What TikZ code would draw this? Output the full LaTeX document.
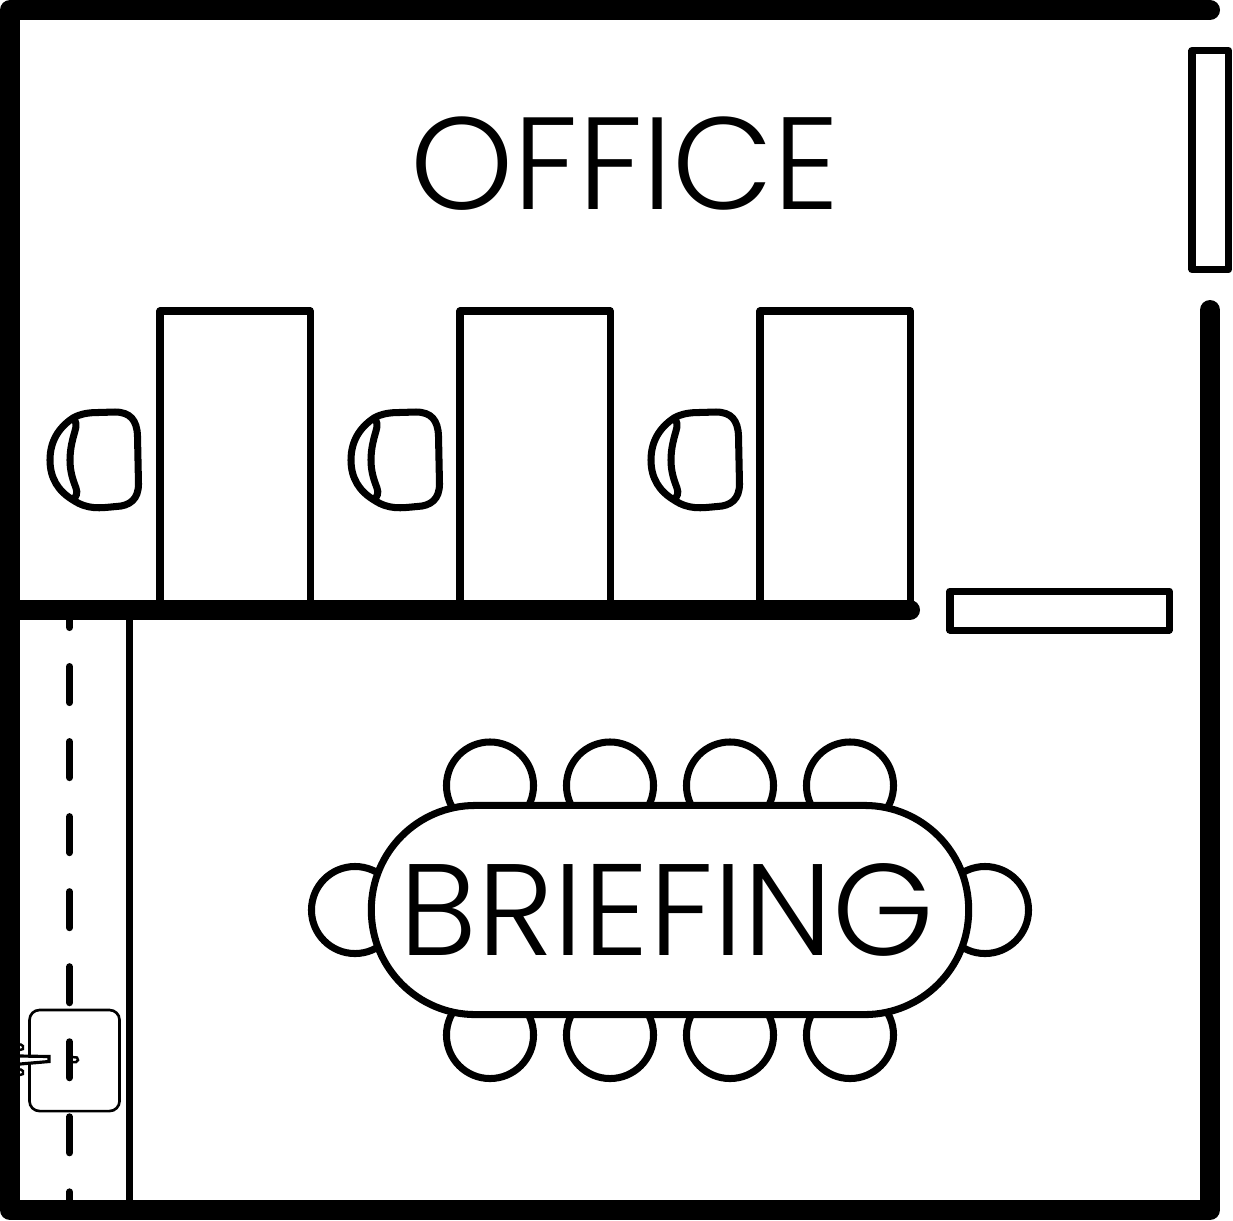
\documentclass[tikz,border=0pt]{standalone}
\usepackage{fontspec}
\setmainfont{Poppins Light}
\begin{document}
\begin{tikzpicture}[x=0.01cm,y=-0.01cm,
  wall/.style={line width=5.69pt, line cap=round, line join=round},
  outline/.style={line width=2pt},
  thin/.style={line width=0.75pt},
  box/.style={draw, outline, line join=round, inner sep=0pt, outer sep=0pt, anchor=north west},
  seat/.style={circle, draw, outline, fill=white, minimum size=0.87cm, inner sep=0pt, outer sep=0pt},
  chairback/.pic={
    \draw[outline, fill=white] (73,418) .. controls (80,414) and (88,412.5) .. (98,412.5) -- (115,412)
      .. controls (130,412) and (137,420) .. (137.5,436) -- (138.5,484)
      .. controls (138.5,499) and (130,506) .. (116,506.5)
      .. controls (100,508) and (88,510) .. (73,500)
      .. controls (58,491) and (50,478) .. (50,460)
      .. controls (50,442) and (58,428) .. (73,418) -- cycle;
    \draw[outline] (73,418) .. controls (76,421) and (77,425) .. (75,431)
      .. controls (72,441) and (70,450) .. (70,460)
      .. controls (70,472) and (73,480) .. (76,488)
      .. controls (78,493) and (76,497) .. (73,500);
  }]
\useasboundingbox (0,0) rectangle (1233,1220);

\coordinate (nw) at (10,10);
\coordinate (ne) at (1210,10);
\coordinate (sw) at (10,1210);
\coordinate (se) at (1210,1210);
\coordinate (gap) at (1210,310);
\coordinate (midw) at (10,610);
\coordinate (mide) at (910,610);
\coordinate (aislen) at (129.7,610);
\coordinate (aisles) at (129.7,1210);
\coordinate (trackn) at (69.5,618);
\coordinate (tracks) at (69.5,1202);

% corridor
\draw[outline] (aislen) -- (aisles);
\draw[outline, line cap=round, dash pattern=on 0.36cm off 0.39cm, dash phase=0.265cm] (trackn) -- (tracks);

% desks
\foreach \x/\n in {160/one,460/two,760/three}{
  \node[box, minimum width=1.5cm, minimum height=2.99cm] at (\x,311) (desk\n) {};
}
\node[box, minimum width=0.365cm, minimum height=2.19cm] at (1192,50.5) (cabinet) {};
\node[box, minimum width=2.19cm, minimum height=0.39cm] at (950,591) (shelf) {};

% chairs at the desks
\pic at (0,0) {chairback};
\pic at (301,0) {chairback};
\pic at (601,0) {chairback};

% walls
\draw[wall] (ne) -- (nw) -- (sw) -- (se) -- (gap);
\draw[wall] (midw) -- (mide);

% briefing table
\foreach \x/\n in {490/a,610/b,730/c,850/d}{
  \node[seat] at (\x,785.5) (top\n) {};
  \node[seat] at (\x,1035) (bottom\n) {};
}
\node[seat] at (355,910) (leftseat) {};
\node[seat] at (985,910) (rightseat) {};
\node[draw, outline, fill=white, rounded corners=1.04cm, minimum width=5.97cm, minimum height=2.09cm, inner sep=0pt, outer sep=0pt] at (670,910) (table) {};
\node[font=\fontsize{37}{37}\selectfont] at (667,910) (briefing) {BRIEFING};

\node[font=\fontsize{37.3}{37}\selectfont] at (625,164) (office) {OFFICE};

% cart on the track
\node[draw, thin, rounded corners=0.1cm, minimum width=0.9cm, minimum height=1.01cm, inner sep=0pt, outer sep=0pt, anchor=north west] at (29.5,1010) (cart) {};
\draw[line width=0.9pt, fill=white] (20,1056) -- (49,1056.5) -- (49,1061.5) -- (20,1064);
\draw[line width=0.7pt] (20,1044) -- (23,1046) -- (23,1049) -- (20,1050);
\draw[line width=0.7pt] (20,1069) -- (23,1071) -- (23,1074) -- (20,1075);
\draw[line width=0.7pt] (72,1057) -- (77,1057.5) -- (78,1060) -- (76,1062) -- (72,1062);
\end{tikzpicture}
\end{document}
